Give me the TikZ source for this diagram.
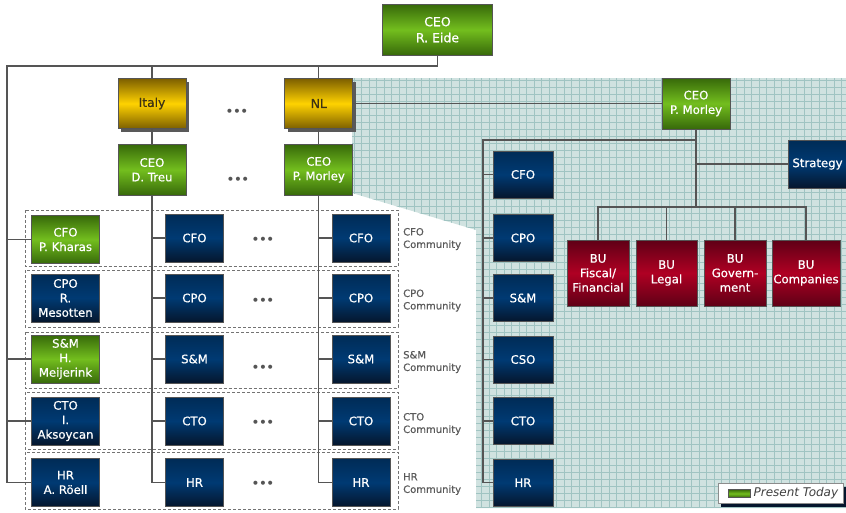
\documentclass[tikz,border=0pt]{standalone}
\usepackage{fontspec}
\setmainfont{DejaVu Sans}
\newfontfamily\boxfont{DejaVu Sans}[FakeBold=0.6]
\usetikzlibrary{shadows}

\definecolor{grnDark}{RGB}{55,105,10}
\definecolor{grnLight}{RGB}{115,190,30}
\definecolor{navyMid}{RGB}{0,58,115}
\definecolor{navyDark}{RGB}{5,22,45}
\definecolor{goldDark}{RGB}{125,95,0}
\definecolor{goldLight}{RGB}{255,210,0}
\definecolor{goldText}{RGB}{60,50,20}
\definecolor{redDark}{RGB}{95,0,22}
\definecolor{redLight}{RGB}{175,0,35}
\definecolor{lineGray}{RGB}{85,85,85}
\definecolor{labelGray}{RGB}{90,90,90}
\definecolor{hatchBg}{RGB}{208,226,224}
\definecolor{hatchLine}{RGB}{160,196,194}

\tikzset{
  box/.style={draw=lineGray, line width=0.8pt, inner sep=0pt, align=center,
    text=white, font=\boxfont\fontsize{11.7}{14.5}\selectfont},
  greenbox/.style={box, top color=grnDark, bottom color=grnDark, middle color=grnLight},
  navybox/.style={box, top color=navyMid!75!black, bottom color=navyDark, middle color=navyMid},
  redbox/.style={box, top color=redDark, bottom color=redDark, middle color=redLight,
    minimum height=66pt},
  goldbox/.style={box, top color=goldDark, bottom color=goldDark, middle color=goldLight,
    text=goldText, font=\boxfont\fontsize{12.3}{14}\selectfont,
    minimum width=68pt, minimum height=50pt,
    drop shadow={shadow xshift=3pt, shadow yshift=-3pt, opacity=1, fill=black!65}},
  leftcol/.style={minimum width=68pt, minimum height=48pt},
  midcol/.style={minimum width=58pt, minimum height=48pt},
  panelcol/.style={minimum width=60pt, minimum height=47pt},
  conn/.style={draw=lineGray, line width=1.1pt},
  rowbox/.style={draw=black!55, line width=0.8pt, dash pattern=on 3pt off 2pt},
  dots/.style={text=lineGray, font=\fontsize{11.5}{12}\selectfont\bfseries, inner sep=0pt},
  community/.style={anchor=west, align=left, text=labelGray, inner sep=0pt,
    font=\boxfont\fontsize{10}{12.5}\selectfont},
  legendbox/.style={draw=black!45, fill=white, line width=0.8pt,
    minimum width=125pt, minimum height=20pt, inner sep=0pt,
    drop shadow={shadow xshift=3pt, shadow yshift=-3pt, opacity=1, fill=navyDark}}
}

\begin{document}
\begin{tikzpicture}[x=1pt, y=-1pt]
  \useasboundingbox (0,0) rectangle (846,512);
  % gerasterd vlak achter NL
  \fill[hatchBg] (352,78) -- (846,78) -- (846,508) -- (476,508) -- (476,230) -- (352,193) -- cycle;
  \begin{scope}
    \clip (352,78) -- (846,78) -- (846,508) -- (476,508) -- (476,230) -- (352,193) -- cycle;
    \foreach \gx in {354,361.5,...,846} \draw[hatchLine, line width=0.5pt] (\gx,78) -- (\gx,508);
    \foreach \gy in {80,87,...,508} \draw[hatchLine, line width=0.5pt] (352,\gy) -- (846,\gy);
  \end{scope}

  % communities
  \draw[rowbox] (25,210) rectangle (398,266.5);
  \draw[rowbox] (25,270) rectangle (398,327);
  \draw[rowbox] (25,332) rectangle (398,388.5);
  \draw[rowbox] (25,392) rectangle (398,449);
  \draw[rowbox] (25,452) rectangle (398,509);
  \node[community] (cfoC) at (403,239) {CFO\\Community};
  \node[community] (cpoC) at (403,300.5) {CPO\\Community};
  \node[community] (smC) at (403,362) {S\&M\\Community};
  \node[community] (ctoC) at (403,424) {CTO\\Community};
  \node[community] (hrC) at (403,484) {HR\\Community};

  \node[greenbox, minimum width=110pt, minimum height=51pt, font=\boxfont\fontsize{12.5}{16}\selectfont] (eide) at (437.5,29.7) {CEO\\R. Eide};
  \node[goldbox] (italy) at (152,103.5) {Italy};
  \node[goldbox] (nl) at (318.8,103.5) {NL};
  \node[dots] (dotsA) at (237,112) {•••};
  \node[greenbox, leftcol, minimum height=51pt] (treu) at (152,169.8) {CEO\\D. Treu};
  \node[greenbox, leftcol, minimum height=51pt] (pmNL) at (318.8,169.8) {CEO\\P. Morley};
  \node[dots] (dotsB) at (238,180) {•••};

  \node[greenbox, leftcol] (cfoL) at (65.5,239.5) {CFO\\P. Kharas};
  \node[navybox, leftcol] (cpoL) at (65.5,298) {CPO\\R.\\Mesotten};
  \node[greenbox, leftcol] (smL) at (65.5,359) {S\&M\\H.\\Meijerink};
  \node[navybox, leftcol] (ctoL) at (65.5,421) {CTO\\I.\\Aksoycan};
  \node[navybox, leftcol] (hrL) at (65.5,482.5) {HR\\A. Röell};

  \foreach \nm/\txt/\yy/\dy in {cfo/CFO/238/240, cpo/CPO/298/301, sm/S\&M/359/368, cto/CTO/421/423, hr/HR/482.5/484} {
    \node[navybox, midcol] (\nm M) at (194.5,\yy) {\txt};
    \node[navybox, midcol] (\nm R) at (361,\yy) {\txt};
    \node[dots] (\nm D) at (263,\dy) {•••};
  }

  \coordinate (topL) at (7,66);
  \draw[conn] (eide.south) |- (topL) |- (hrL.west);
  \draw[conn] (topL |- cfoL.west) -- (cfoL.west);
  \draw[conn] (topL |- smL.west) -- (smL.west);
  \draw[conn] (topL |- ctoL.west) -- (ctoL.west);
  \draw[conn] (italy.north) -- (italy.north |- topL);
  \draw[conn] (nl.north) -- (nl.north |- topL);
  \draw[conn] (italy) -- (treu);
  \draw[conn] (nl) -- (pmNL);
  \draw[conn] (treu.south) |- (hrM.west);
  \draw[conn] (pmNL.south) |- (hrR.west);
  \foreach \nm in {cfo,cpo,sm,cto} {
    \draw[conn] (treu.south |- \nm M.west) -- (\nm M.west);
    \draw[conn] (pmNL.south |- \nm R.west) -- (\nm R.west);
  }

  % NL organisatie
  \node[greenbox, leftcol, minimum height=51pt] (pm) at (696,103.5) {CEO\\P. Morley};
  \node[navybox, panelcol] (cfoP) at (523,174.5) {CFO};
  \node[navybox, panelcol] (cpoP) at (523,238) {CPO};
  \node[navybox, panelcol] (smP) at (523,298) {S\&M};
  \node[navybox, panelcol] (csoP) at (523,359.5) {CSO};
  \node[navybox, panelcol] (ctoP) at (523,421) {CTO};
  \node[navybox, panelcol] (hrP) at (523,482.7) {HR};
  \node[navybox, minimum width=59pt, minimum height=48pt] (strat) at (817.5,164) {Strategy};
  \node[redbox, minimum width=62pt] (buF) at (598,273) {BU\\Fiscal/\\Financial};
  \node[redbox, minimum width=61pt] (buL) at (666.5,273) {BU\\Legal};
  \node[redbox, minimum width=62pt] (buG) at (735,273) {BU\\Govern-\\ment};
  \node[redbox, minimum width=68pt] (buC) at (806,273) {BU\\Companies};

  \draw[conn] (nl.east) -- (pm.west);
  \coordinate (panelL) at (483,140);
  \coordinate (buBar) at (696,207);
  \draw[conn] (pm.south) -- (buBar);
  \draw[conn] (pm.south |- panelL) -- (panelL) |- (hrP.west);
  \foreach \nm in {cfo,cpo,sm,cso,cto}
    \draw[conn] (panelL |- \nm P.west) -- (\nm P.west);
  \draw[conn] (pm.south |- strat.west) -- (strat.west);
  \draw[conn] (buF.north) |- (buBar) -| (buC.north);
  \draw[conn] (buL.north) -- (buL.north |- buBar);
  \draw[conn] (buG.north) -- (buG.north |- buBar);

  \node[legendbox] (legend) at (780.5,493.5) {};
  \node[greenbox, minimum width=22pt, minimum height=8pt] (swatch) at (739,493.5) {};
  \node[anchor=west, inner sep=3pt, text=black!75, font=\fontsize{12}{13}\selectfont\itshape] (legendtxt) at (swatch.east) {Present Today};
\end{tikzpicture}
\end{document}
